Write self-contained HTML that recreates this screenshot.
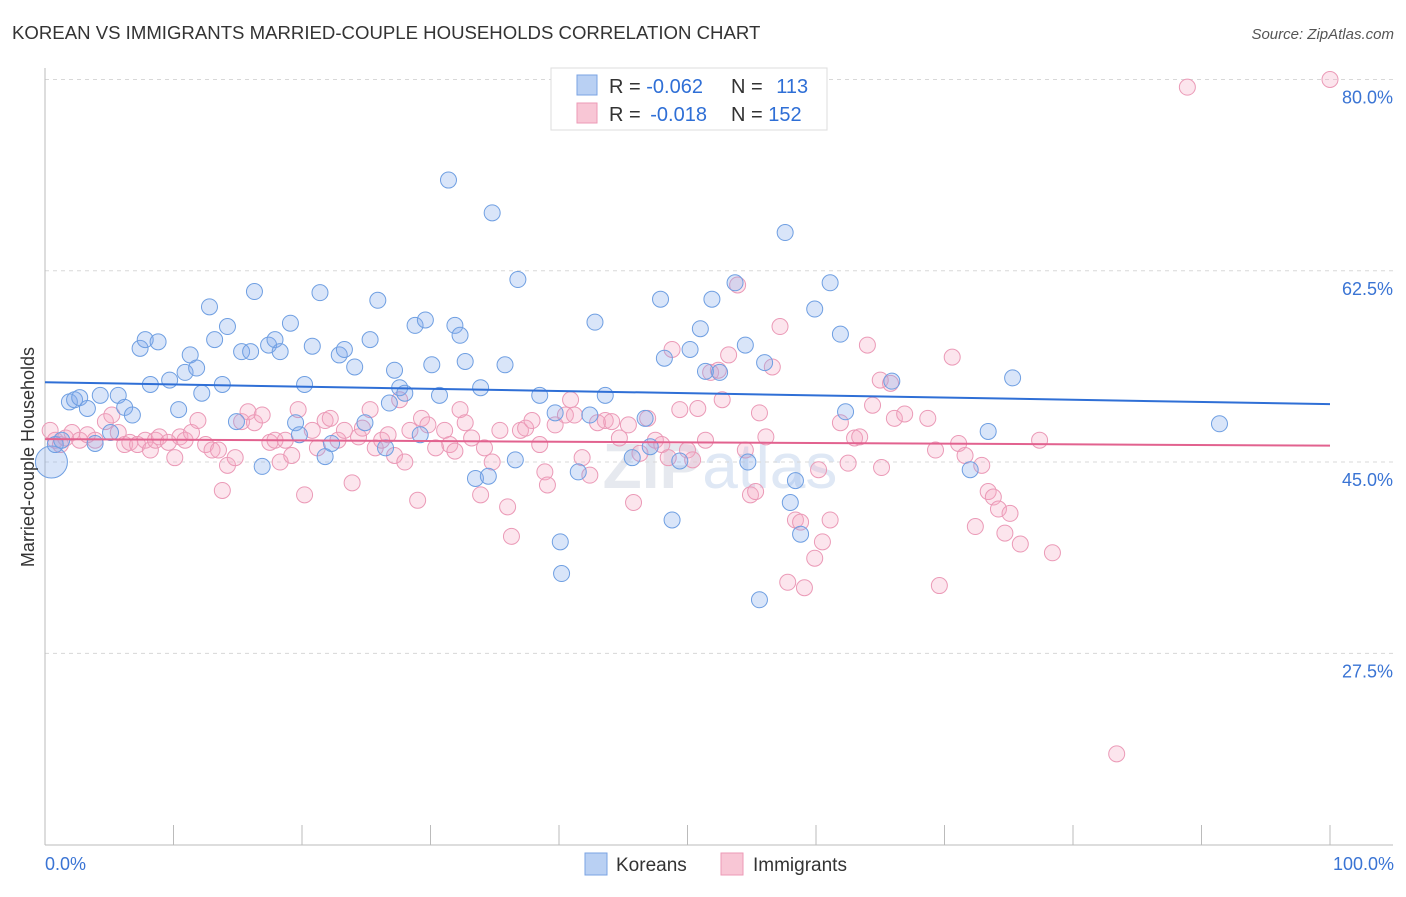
<!DOCTYPE html>
<html><head><meta charset="utf-8"><style>
body{margin:0;background:#fff;font-family:"Liberation Sans",sans-serif;}
svg text{font-family:"Liberation Sans",sans-serif;}
</style></head><body>
<svg id="c" width="1406" height="892" xmlns="http://www.w3.org/2000/svg">
<text x="12" y="39" font-size="18.6" fill="#333">KOREAN VS IMMIGRANTS MARRIED-COUPLE HOUSEHOLDS CORRELATION CHART</text>
<text x="1394" y="39" font-size="15" fill="#555" text-anchor="end" font-style="italic">Source: ZipAtlas.com</text>
<text x="720" y="488" font-size="64" fill="#e6e9ef" text-anchor="middle" font-weight="bold">ZIP<tspan fill="#dfe8f5" font-weight="normal">atlas</tspan></text>
<g id="grid"></g>
<g id="axes"></g>
<g id="pts"></g>
<g id="trend"></g>
<text transform="translate(34,457) rotate(-90)" font-size="18" fill="#333" text-anchor="middle">Married-couple Households</text>
<g>
<rect x="551" y="68" width="276" height="62" fill="#fff" stroke="#ddd"/>
<rect x="577" y="75" width="20" height="20" fill="#b9d0f3" stroke="#7aa3e3"/>
<rect x="577" y="103" width="20" height="20" fill="#f8c6d5" stroke="#ec9ab6"/>
<text x="609" y="93" font-size="20" fill="#333">R = <tspan fill="#2f6fd6">-0.062</tspan></text>
<text x="731" y="93" font-size="20" fill="#333">N = <tspan fill="#2f6fd6" dx="8">113</tspan></text>
<text x="609" y="121" font-size="20" fill="#333">R = <tspan fill="#2f6fd6" dx="4">-0.018</tspan></text>
<text x="731" y="121" font-size="20" fill="#333">N = <tspan fill="#2f6fd6">152</tspan></text>
</g>
<g>
<rect x="585" y="853" width="22" height="22" fill="#b9d0f3" stroke="#7aa3e3"/>
<text x="616" y="871" font-size="19" fill="#333">Koreans</text>
<rect x="721" y="853" width="22" height="22" fill="#f8c6d5" stroke="#ec9ab6"/>
<text x="753" y="871" font-size="19" fill="#333">Immigrants</text>
</g>
</svg>
<script>
const yTicks=[80,62.5,45,27.5];
const yTickLabels=["80.0%","62.5%","45.0%","27.5%"];
const xTickLabels=["0.0%","100.0%"];
const koreanX=[0.5,0.8,1.3,1.9,2.3,2.7,3.3,3.9,4.3,5.1,5.7,6.2,6.8,7.4,7.8,8.2,8.8,9.7,10.4,10.9,11.3,11.8,12.2,12.8,13.2,13.8,14.2,14.9,15.3,16.0,16.3,16.9,17.4,17.9,18.3,19.1,19.5,19.8,20.2,20.8,21.4,21.8,22.3,22.9,23.3,24.1,24.9,25.3,25.9,26.5,26.8,27.2,27.6,28.0,28.8,29.2,29.6,30.1,30.7,31.4,31.9,32.3,32.7,33.5,33.9,34.5,34.8,35.8,36.6,36.8,38.5,39.7,40.1,40.2,41.5,42.4,42.8,43.6,45.7,46.7,47.1,47.9,48.2,48.8,49.4,50.2,51.0,51.4,51.9,52.5,53.7,54.5,54.7,55.6,56.0,57.6,58.0,58.4,58.8,59.9,61.1,61.9,62.3,65.9,72.0,73.4,75.3,91.4];
const koreanY=[45.0,46.6,47.0,50.5,50.7,50.9,49.9,46.7,51.1,47.7,51.1,50.0,49.3,55.4,56.2,52.1,56.0,52.5,49.8,53.2,54.8,53.6,51.3,59.2,56.2,52.1,57.4,48.7,55.1,55.1,60.6,44.6,55.7,56.2,55.1,57.7,48.6,47.5,52.1,55.6,60.5,45.5,46.7,54.8,55.3,53.7,48.6,56.2,59.8,46.3,50.4,53.4,51.8,51.3,57.5,47.5,58.0,53.9,51.1,70.8,57.5,56.6,54.2,43.5,51.8,43.7,67.8,53.9,45.2,61.7,51.1,49.5,37.7,34.8,44.1,49.3,57.8,51.1,45.4,49.0,46.4,59.9,54.5,39.7,45.1,55.3,57.2,53.3,59.9,53.2,61.4,55.7,45.0,32.4,54.1,66.0,41.3,43.3,38.4,59.0,61.4,56.7,49.6,52.4,44.3,47.8,52.7,48.5];
const immX=[0.4,0.8,1.2,1.6,2.1,2.7,3.3,3.9,4.7,5.2,5.7,6.2,6.6,7.2,7.8,8.2,8.6,8.9,9.6,10.1,10.5,10.9,11.4,11.9,12.5,13.0,13.5,13.8,14.2,14.8,15.3,15.8,16.3,16.9,17.5,17.9,18.3,18.7,19.2,19.7,20.2,20.8,21.2,21.8,22.2,22.8,23.3,23.9,24.4,24.7,25.3,25.7,26.2,26.7,27.2,27.6,28.0,28.4,29.0,29.3,29.8,30.4,31.1,31.5,31.9,32.3,32.7,33.2,33.9,34.2,34.8,35.4,36.0,36.3,37.0,37.4,37.9,38.5,38.9,39.1,39.7,40.5,40.9,41.2,41.8,42.4,43.0,43.6,44.1,44.7,45.4,45.8,46.3,46.9,47.5,48.0,48.5,48.8,49.4,50.0,50.4,50.8,51.4,51.8,52.4,52.7,53.2,53.9,54.5,54.9,55.3,55.6,56.1,56.6,57.2,57.8,58.4,58.8,59.1,59.9,60.2,60.5,61.1,61.9,62.5,63.0,63.4,64.0,64.4,65.0,65.1,65.8,66.1,66.9,68.7,69.3,69.6,70.6,71.1,71.6,72.4,72.9,73.4,73.8,74.2,74.7,75.1,75.9,77.4,78.4,83.4,88.9,100];
const immY=[47.9,47.0,46.6,47.2,47.7,47.0,47.5,47.0,48.7,49.3,47.7,46.6,46.8,46.6,47.0,46.1,47.0,47.3,46.8,45.4,47.3,47.0,47.7,48.8,46.6,46.1,46.1,42.4,44.7,45.4,48.7,49.6,48.6,49.3,46.8,47.0,45.0,47.0,45.6,49.8,42.0,47.9,46.3,48.8,49.0,47.0,47.9,43.1,47.3,48.1,49.8,46.3,47.0,47.5,45.6,50.7,45.0,47.9,41.5,49.0,48.4,46.3,47.9,46.6,46.0,49.8,48.6,47.2,42.0,46.3,45.0,47.9,40.9,38.2,47.9,48.1,48.8,46.6,44.1,42.9,48.4,49.3,50.7,49.3,45.4,43.8,48.6,48.8,48.7,47.2,48.4,41.3,45.8,49.0,47.0,46.6,45.4,55.3,49.8,46.1,45.2,49.9,47.0,53.2,53.4,50.7,54.8,61.2,46.1,42.0,42.3,49.5,47.3,53.7,57.4,34.0,39.7,39.5,33.5,36.2,44.3,37.7,39.7,48.6,44.9,47.2,47.3,55.7,50.2,52.5,44.5,52.2,49.0,49.4,49.0,46.1,33.7,54.6,46.7,45.6,39.1,44.7,42.3,41.8,40.7,38.5,40.3,37.5,47.0,36.7,18.3,79.3,80.0];
const trendStart=[52.3,47.1];
const trendEnd=[50.3,46.5];
const NS="http://www.w3.org/2000/svg";
const X0=45,X1=1330,Y80=79.5,PXP=10.93;
function sx(v){return X0+(X1-X0)*v/100;}
function sy(v){return Y80+(80-v)*PXP;}
function mk(t,p,a){const e=document.createElementNS(NS,t);for(const k in a)e.setAttribute(k,a[k]);p.appendChild(e);return e;}
const grid=document.getElementById('grid'),axes=document.getElementById('axes'),pts=document.getElementById('pts'),tr=document.getElementById('trend');
yTicks.forEach((t,i)=>{
 const l=mk('line',grid,{x1:45,x2:1393,y1:sy(t),y2:sy(t),stroke:'#d8d8d8','stroke-dasharray':'4,4'});
 
 
 const tx=mk('text',grid,{x:1393,y:sy(t)+24,'font-size':18,fill:'#3a74d4','text-anchor':'end'});
 tx.textContent=yTickLabels[i];
 
 
});
const ax=mk('line',axes,{x1:45,x2:1393,y1:845,y2:845,stroke:'#bbb'});


const ay=mk('line',axes,{x1:45,x2:45,y1:68,y2:845,stroke:'#bbb'});


for(let i=0;i<=10;i++){
 const t=mk('line',axes,{x1:sx(i*10),x2:sx(i*10),y1:825,y2:845,stroke:'#bbb'});
 
 
}
[[0,'start',45],[1,'end',1394]].forEach(([i,a,x])=>{
 const t=mk('text',axes,{x:x,y:870,'font-size':18,fill:'#3a74d4','text-anchor':a});
 t.textContent=xTickLabels[i];
 
 
});
function series(xs,ys,fill,stroke,name){
 xs.forEach((x,i)=>{
  const r=(name==='korean-point'&&i===0)?16:8;
  const c=mk('circle',pts,{cx:sx(x),cy:sy(ys[i]),r:r,fill:fill,stroke:stroke,'stroke-width':1});
  
  
 });
}
series(immX,immY,'rgba(244,170,196,0.3)','#eb9ab7','immigrant-point');
series(koreanX,koreanY,'rgba(130,170,235,0.3)','#6f9fe2','korean-point');
['#2f6fd6','#e2628f'].forEach((col,i)=>{
 const l=mk('line',tr,{x1:sx(0),x2:sx(100),y1:sy(trendStart[i]),y2:sy(trendEnd[i]),stroke:col,'stroke-width':2});
 
 
});
</script>
</body></html>
